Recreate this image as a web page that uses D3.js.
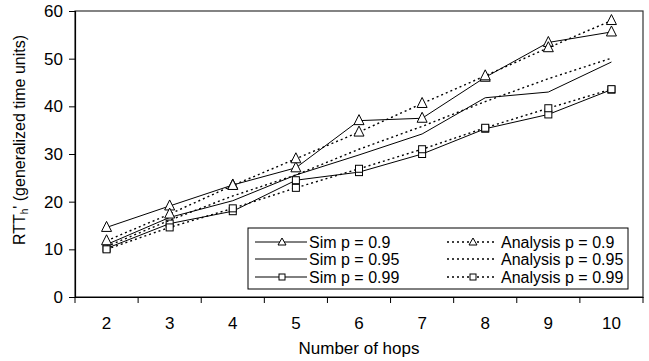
<!DOCTYPE html>
<html><head><meta charset="utf-8">
<script src="https://cdn.jsdelivr.net/npm/d3@7/dist/d3.min.js"></script>
<style>body{margin:0;background:#fff}svg{display:block}text{font-family:"Liberation Sans",Arial,sans-serif}</style>
</head><body>
<script>
const hops = ["2","3","4","5","6","7","8","9","10"];
const yTicks = [0,10,20,30,40,50,60];
const simP90  = [14.6,19.1,23.5,27.1,37.0,37.5,46.1,53.4,55.6];
const anaP90  = [11.8,17.4,23.4,29.0,34.6,40.6,46.4,52.3,58.0];
const simP95  = [11.0,16.7,20.2,25.6,29.8,34.2,41.8,43.0,49.3];
const anaP95  = [10.6,16.1,21.2,25.6,31.0,35.8,41.0,45.8,50.1];
const simP99  = [10.2,15.4,18.0,24.5,26.2,30.0,35.3,38.3,43.5];
const anaP99  = [10.0,14.6,18.6,22.9,26.9,31.0,35.5,39.6,43.6];
const seriesNames = ["Sim p = 0.9","Sim p = 0.95","Sim p = 0.99","Analysis p = 0.9","Analysis p = 0.95","Analysis p = 0.99"];

const series = [
  {name:seriesNames[0], values:simP90, dash:null, marker:"tri"},
  {name:seriesNames[1], values:simP95, dash:null, marker:null},
  {name:seriesNames[2], values:simP99, dash:null, marker:"sq"},
  {name:seriesNames[3], values:anaP90, dash:"2,3", marker:"tri"},
  {name:seriesNames[4], values:anaP95, dash:"2,3", marker:null},
  {name:seriesNames[5], values:anaP99, dash:"2,3", marker:"sq"}
];

const FS=16, TFS=17;
const W=649,H=361, L=75, R=643, T=11, B=297;
const svg=d3.select("body").append("svg").attr("width",W).attr("height",H);
const x=d3.scaleBand().domain(hops).range([L,R]);
const y=d3.scaleLinear().domain([0,60]).range([B,T]);

// frame
svg.append("rect").attr("x",L).attr("y",T).attr("width",R-L).attr("height",B-T)
  .attr("fill","none").attr("stroke","#333").attr("stroke-width",1.2);

const ya=svg.append("g").attr("transform",`translate(${L},0)`)
  .call(d3.axisLeft(y).tickValues(yTicks).tickSize(6).tickPadding(6));
ya.select(".domain").attr("stroke","#000").attr("stroke-width",1.2);
ya.selectAll("text").attr("font-size",TFS).attr("fill","#000").attr("font-family","Liberation Sans, Arial, sans-serif");

const xa=svg.append("g").attr("transform",`translate(0,${B})`)
  .call(d3.axisBottom(x).tickSize(0).tickPadding(20));
xa.select(".domain").attr("stroke","#000").attr("stroke-width",1.2);
xa.selectAll("text").attr("font-size",TFS).attr("fill","#000").attr("font-family","Liberation Sans, Arial, sans-serif");
// boundary ticks between categories
const bounds = hops.map(h=>x(h)).concat([R]);
svg.append("g").selectAll("line").data(bounds).join("line")
  .attr("x1",d=>d).attr("x2",d=>d).attr("y1",B).attr("y2",B+6).attr("stroke","#000");

const cx = h=>x(h)+x.bandwidth()/2;
const line=d3.line().x((d,i)=>cx(hops[i])).y(d=>y(d));

function drawMarker(g,type,px,py){
  if(type==="tri"){
    const s=5;
    g.append("path").attr("d",`M${px},${py-s-1}L${px+s},${py+s-1}L${px-s},${py+s-1}Z`)
      .attr("fill","#fff").attr("stroke","#000").attr("stroke-width",1);
  } else if(type==="sq"){
    const s=3.5;
    g.append("rect").attr("x",px-s).attr("y",py-s).attr("width",2*s).attr("height",2*s)
      .attr("fill","#fff").attr("stroke","#000").attr("stroke-width",1);
  }
}

series.forEach(s=>{
  const g=svg.append("g");
  g.append("path").datum(s.values).attr("d",line).attr("fill","none")
    .attr("stroke","#000").attr("stroke-width",s.dash?1.4:1)
    .attr("stroke-dasharray",s.dash);
  if(s.marker) s.values.forEach((v,i)=>drawMarker(g,s.marker,cx(hops[i]),y(v)));
});

// legend
const lg=svg.append("g");
lg.append("rect").attr("x",248).attr("y",228).attr("width",380).attr("height",61)
  .attr("fill","#fff").attr("stroke","#000").attr("stroke-width",1);
const rowsY=[242,259,277];
series.forEach((s,i)=>{
  const col=Math.floor(i/3), row=i%3;
  const x0= col===0?255:447, x1= col===0?307:495;
  const tx= col===0?309:501;
  const yy=rowsY[row];
  lg.append("line").attr("x1",x0).attr("x2",x1).attr("y1",yy).attr("y2",yy)
    .attr("stroke","#000").attr("stroke-width",s.dash?1.4:1).attr("stroke-dasharray",s.dash);
  if(s.marker){
    const mx= col===0?282:473;
    if(s.marker==="tri"){
      lg.append("path").attr("d",`M${mx},${yy-4}L${mx+4},${yy+3}L${mx-4},${yy+3}Z`).attr("fill","#fff").attr("stroke","#000");
    } else {
      lg.append("rect").attr("x",mx-3).attr("y",yy-3).attr("width",6).attr("height",6).attr("fill","#fff").attr("stroke","#000");
    }
  }
  lg.append("text").attr("x",tx).attr("y",yy+6).attr("font-size",FS).text(s.name);
});

// axis titles
svg.append("text").attr("x",(L+R)/2).attr("y",354).attr("text-anchor","middle").attr("font-size",TFS).text("Number of hops");
const yt=svg.append("text").attr("transform",`translate(25,140) rotate(-90)`).attr("text-anchor","middle").attr("font-size",FS);
yt.append("tspan").text("RTT");
yt.append("tspan").attr("font-size",10).attr("dy",3).text("h");
yt.append("tspan").attr("dy",-3).text("' (generalized time units)");
</script>
</body></html>
